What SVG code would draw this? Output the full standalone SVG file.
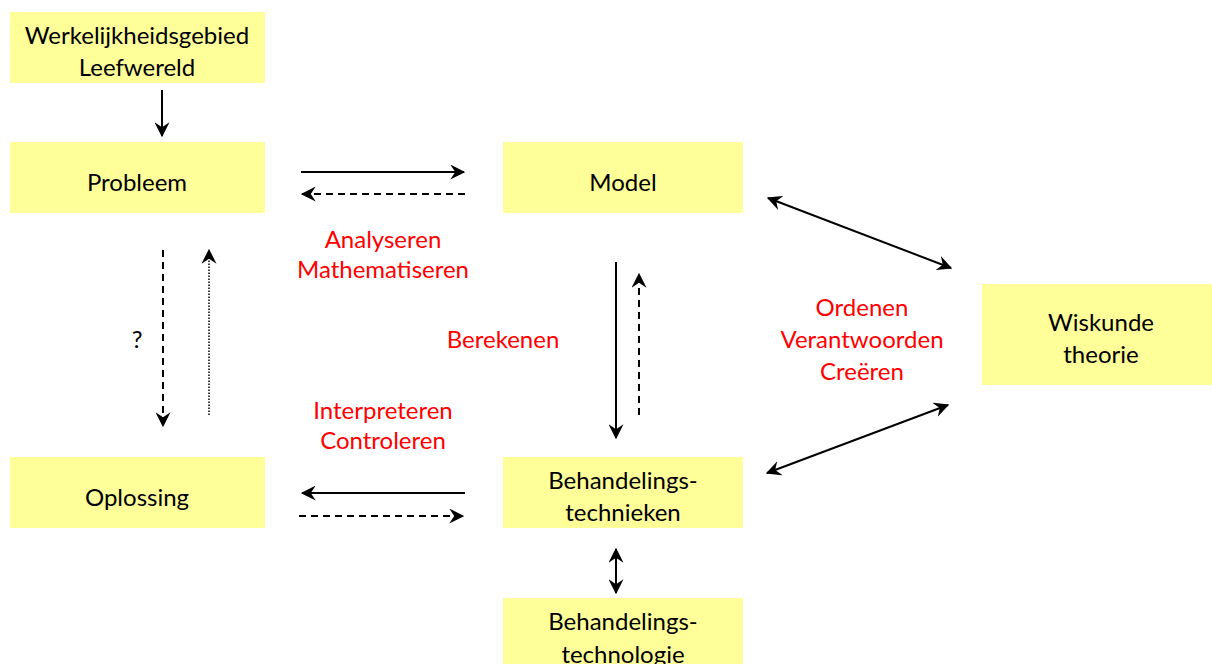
<svg xmlns="http://www.w3.org/2000/svg" width="1212" height="664" viewBox="0 0 1212 664">
<style>
.box{fill:#FFFF99;stroke:none}
.t{font-family:Lato,"Open Sans","Liberation Sans",sans-serif;font-size:24px;fill:#000;text-anchor:middle}
.r{font-family:Lato,"Open Sans","Liberation Sans",sans-serif;font-size:24px;fill:#FF0000;text-anchor:middle}
.c{stroke:#000;stroke-width:2;fill:none}
.d{stroke-dasharray:7,5}
.o{stroke-dasharray:1.5,1.5;stroke-width:1.5}
</style>
<defs>
<marker id="ah" viewBox="0 0 12 12" refX="11" refY="6" markerWidth="15" markerHeight="15" markerUnits="userSpaceOnUse" orient="auto-start-reverse">
<path d="M0,0 L12,6 L0,12 L4,6 z" fill="#000"/>
</marker>
</defs>
<rect width="1212" height="664" fill="#fff"/>
<g id="n-werkelijkheid"><rect class="box" x="10" y="12" width="255" height="71"/><text class="t" x="137" y="44">Werkelijkheidsgebied</text><text class="t" x="137" y="76">Leefwereld</text></g>
<g id="n-probleem"><rect class="box" x="10" y="142" width="255" height="71"/><text class="t" x="137" y="191">Probleem</text></g>
<g id="n-model"><rect class="box" x="503" y="142" width="240" height="71"/><text class="t" x="623" y="191">Model</text></g>
<g id="n-wiskunde"><rect class="box" x="982" y="284" width="230" height="101"/><text class="t" x="1101" y="331">Wiskunde</text><text class="t" x="1101" y="363">theorie</text></g>
<g id="n-oplossing"><rect class="box" x="10" y="457" width="255" height="71"/><text class="t" x="137" y="506">Oplossing</text></g>
<g id="n-technieken"><rect class="box" x="503" y="457" width="240" height="71"/><text class="t" x="623" y="489">Behandelings-</text><text class="t" x="623" y="521">technieken</text></g>
<g id="n-technologie"><rect class="box" x="503" y="598" width="240" height="70"/><text class="t" x="623" y="630">Behandelings-</text><text class="t" x="623" y="663">technologie</text></g>
<g id="connectors">
<line class="c" x1="162" y1="90" x2="162" y2="136" marker-end="url(#ah)"/>
<line class="c" x1="301" y1="172" x2="464" y2="172" marker-end="url(#ah)"/>
<line class="c d" x1="465" y1="194" x2="302" y2="194" marker-end="url(#ah)"/>
<line class="c d" x1="163" y1="250" x2="163" y2="426" marker-end="url(#ah)"/>
<line class="c o" x1="209" y1="415" x2="209" y2="250" marker-end="url(#ah)"/>
<line class="c" x1="616" y1="262" x2="616" y2="438" marker-end="url(#ah)"/>
<line class="c d" x1="639" y1="415" x2="639" y2="274" marker-end="url(#ah)"/>
<line class="c" x1="465" y1="493" x2="302" y2="493" marker-end="url(#ah)"/>
<line class="c d" x1="299" y1="516" x2="463" y2="516" marker-end="url(#ah)"/>
<line class="c" x1="768" y1="198" x2="951" y2="268" marker-start="url(#ah)" marker-end="url(#ah)"/>
<line class="c" x1="767" y1="473" x2="948" y2="405" marker-start="url(#ah)" marker-end="url(#ah)"/>
<line class="c" x1="616" y1="549" x2="616" y2="593" marker-start="url(#ah)" marker-end="url(#ah)"/>
</g>
<g id="labels">
<text class="t" x="137" y="348">?</text>
<text class="r" x="383" y="248">Analyseren</text>
<text class="r" x="383" y="278">Mathematiseren</text>
<text class="r" x="503" y="348">Berekenen</text>
<text class="r" x="383" y="419">Interpreteren</text>
<text class="r" x="383" y="449">Controleren</text>
<text class="r" x="862" y="316">Ordenen</text>
<text class="r" x="862" y="348">Verantwoorden</text>
<text class="r" x="862" y="380">Creëren</text>
</g>
</svg>
